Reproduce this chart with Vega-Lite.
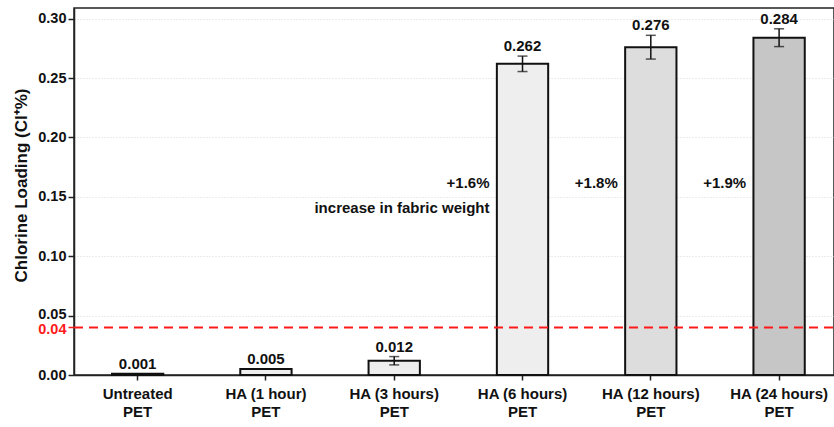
{
  "$schema": "https://vega.github.io/schema/vega-lite/v6.json",
  "autosize": "none",
  "width": 760,
  "height": 367,
  "padding": {"left": 74, "top": 8, "right": 0, "bottom": 52},
  "config": {
    "font": "Liberation Sans",
    "view": {"stroke": "#222", "strokeWidth": 1.5},
    "axis": {"domainColor": "#222", "domainWidth": 1.5, "tickColor": "#222", "tickWidth": 1.5, "labelColor": "#111", "titleColor": "#111"}
  },
  "datasets": {
    "bars": [
      {"sample": "Untreated|PET", "value": 0.001, "low": 0.001, "high": 0.001, "label": "0.001", "pattern": "sparse"},
      {"sample": "HA (1 hour)|PET", "value": 0.005, "low": 0.005, "high": 0.005, "label": "0.005", "pattern": "sparse"},
      {"sample": "HA (3 hours)|PET", "value": 0.012, "low": 0.0085, "high": 0.0155, "label": "0.012", "pattern": "sparse"},
      {"sample": "HA (6 hours)|PET", "value": 0.262, "low": 0.2555, "high": 0.2685, "label": "0.262", "pattern": "sparse"},
      {"sample": "HA (12 hours)|PET", "value": 0.276, "low": 0.266, "high": 0.286, "label": "0.276", "pattern": "medium"},
      {"sample": "HA (24 hours)|PET", "value": 0.284, "low": 0.2765, "high": 0.2915, "label": "0.284", "pattern": "dense"}
    ],
    "notes": [
      {"sample": "HA (6 hours)|PET", "y": 0.162, "text": "+1.6%"},
      {"sample": "HA (6 hours)|PET", "y": 0.1405, "text": "increase in fabric weight"},
      {"sample": "HA (12 hours)|PET", "y": 0.162, "text": "+1.8%"},
      {"sample": "HA (24 hours)|PET", "y": 0.162, "text": "+1.9%"}
    ],
    "threshold": [{"y": 0.04}]
  },
  "encoding": {
    "x": {
      "field": "sample", "type": "nominal", "sort": null,
      "scale": {"paddingInner": 0.6, "paddingOuter": 0.262, "align": 0.565},
      "axis": {
        "title": null, "labelAngle": 0, "labelFontSize": 15, "labelFontWeight": "bold",
        "labelExpr": "split(datum.label, '|')", "labelLineHeight": 18, "labelPadding": 6,
        "tickSize": 5, "labelBaseline": "top", "labelOverlap": false
      }
    }
  },
  "layer": [
    {
      "data": {"name": "bars"},
      "mark": {"type": "bar", "stroke": "#111", "strokeWidth": 2},
      "encoding": {
        "y": {
          "field": "value", "type": "quantitative",
          "scale": {"domain": [0, 0.309], "nice": false, "zero": true},
          "axis": {
            "title": "Chlorine Loading (Cl⁺%)", "titleFontSize": 17, "titleFontWeight": "bold", "titlePadding": 7, "titleY": 177,
            "values": [0, 0.04, 0.05, 0.1, 0.15, 0.2, 0.25, 0.3], "format": ".2f", "labelOverlap": false,
            "labelFontSize": 14.5, "labelFontWeight": "bold", "tickSize": 6, "labelPadding": 2,
            "labelOffset": {"condition": [{"test": "datum.value == 0.04", "value": 2.5}, {"test": "datum.value == 0.05", "value": -1}], "value": 0},
            "labelColor": {"condition": {"test": "datum.value == 0.04", "value": "#ff1a1a"}, "value": "#111"},
            "tickColor": {"condition": {"test": "datum.value == 0.04", "value": "#ff1a1a"}, "value": "#222"},
            "grid": true, "gridColor": "#d8d8d8", "gridDash": [1, 2], "gridWidth": 1,
            "gridOpacity": {"condition": {"test": "datum.value == 0.04 || datum.value == 0", "value": 0}, "value": 1}
          }
        },
        "fill": {
          "field": "pattern", "type": "nominal", "legend": null,
          "scale": {"domain": ["sparse", "medium", "dense"], "range": ["#eeeeee", "#dddddd", "#c6c6c6"]}
        }
      }
    },
    {
      "data": {"name": "bars"},
      "mark": {"type": "rule", "stroke": "#111", "strokeWidth": 1.5},
      "encoding": {
        "y": {"field": "low", "type": "quantitative"},
        "y2": {"field": "high"}
      }
    },
    {
      "data": {"name": "bars"},
      "mark": {"type": "tick", "color": "#111", "size": 10, "thickness": 1.5},
      "encoding": {"y": {"field": "low", "type": "quantitative"}}
    },
    {
      "data": {"name": "bars"},
      "mark": {"type": "tick", "color": "#111", "size": 10, "thickness": 1.5},
      "encoding": {"y": {"field": "high", "type": "quantitative"}}
    },
    {
      "data": {"name": "bars"},
      "mark": {"type": "text", "fontSize": 15, "fontWeight": "bold", "baseline": "alphabetic", "dy": -5, "color": "#111"},
      "encoding": {
        "y": {"field": "high", "type": "quantitative"},
        "text": {"field": "label"}
      }
    },
    {
      "data": {"name": "threshold"},
      "mark": {"type": "rule", "stroke": "#ff1a1a", "strokeWidth": 2, "strokeDash": [9, 6]},
      "encoding": {"y": {"field": "y", "type": "quantitative"}, "x": {"value": 0}, "x2": {"value": 760}}
    },
    {
      "data": {"name": "notes"},
      "mark": {"type": "text", "fontSize": 15, "fontWeight": "bold", "align": "right", "baseline": "middle", "dx": -33, "color": "#111"},
      "encoding": {
        "y": {"field": "y", "type": "quantitative"},
        "text": {"field": "text"}
      }
    }
  ]
}
